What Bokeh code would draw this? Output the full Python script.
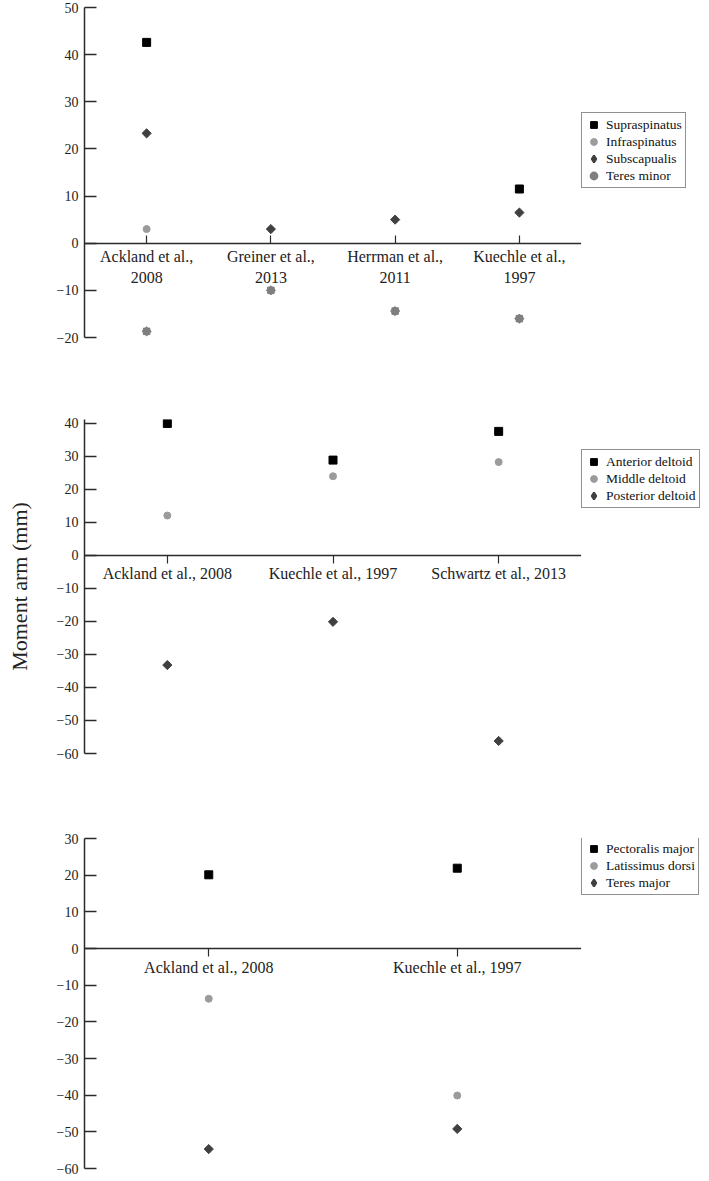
import math
from bokeh.plotting import figure
from bokeh.layouts import column, row
from bokeh.models import FactorRange, Range1d, FixedTicker, Legend, LegendItem, ColumnDataSource
from bokeh.embed import file_html
from bokeh.resources import INLINE

FONT = "Liberation Serif"

# ---------------- Data ----------------
# Panel 1: rotator cuff
studies_1 = ["Ackland et al.,\n2008", "Greiner et al.,\n2013", "Herrman et al.,\n2011", "Kuechle et al.,\n1997"]
supraspinatus = [42.6, None, None, 11.5]
infraspinatus = [3.0, None, None, None]
subscapularis = [23.3, 3.0, 5.0, 6.5]
teres_minor = [-18.7, -10.0, -14.4, -16.0]
yticks_1 = [-20, -10, 0, 10, 20, 30, 40, 50]

# Panel 2: deltoid
studies_2 = ["Ackland et al., 2008", "Kuechle et al., 1997", "Schwartz et al., 2013"]
anterior_deltoid = [40.0, 28.9, 37.6]
middle_deltoid = [12.1, 24.0, 28.3]
posterior_deltoid = [-33.2, -20.1, -56.2]
yticks_2 = [-60, -50, -40, -30, -20, -10, 0, 10, 20, 30, 40]

# Panel 3: others
studies_3 = ["Ackland et al., 2008", "Kuechle et al., 1997"]
pectoralis_major = [20.1, 21.9]
latissimus_dorsi = [-13.7, -40.1]
teres_major = [-54.7, -49.2]
yticks_3 = [-60, -50, -40, -30, -20, -10, 0, 10, 20, 30]

AXIS_COLOR = "#2b2b2b"
BORDER_LEFT = 84
FRAME_W = 497
LEG_W = 709 - BORDER_LEFT - FRAME_W

C_SQ = "black"
C_CI = "#9b9b9b"
C_DI = "#404040"
C_GE = "#7f7f7f"


def fmt(t):
    return ("\u2212" + str(abs(t))) if t < 0 else str(t)


STYLE = {
    "square": [dict(marker="square", size=8, fill_color=C_SQ, line_color=C_SQ)],
    "circle": [dict(marker="circle", size=7, fill_color=C_CI, line_color=C_CI)],
    "diamond": [dict(marker="square", size=6.5, angle=math.pi / 4,
                     fill_color=C_DI, line_color=C_DI)],
    "gear": [dict(marker="square", size=6.5, fill_color=C_GE, line_color=C_GE),
             dict(marker="square", size=6.5, angle=math.pi / 4,
                  fill_color=C_GE, line_color=C_GE)],
}

# legend glyphs (the legend does not draw marker rotation)
LEG_STYLE = {
    "square": [dict(marker="square", fill_color=C_SQ, line_color=C_SQ)],
    "circle": [dict(marker="circle", fill_color=C_CI, line_color=C_CI)],
    "diamond": [dict(marker="diamond", fill_color=C_DI, line_color=C_DI, line_width=2)],
    "gear": [dict(marker="circle", fill_color=C_GE, line_color=C_GE, line_width=2),
             dict(marker="asterisk", line_color=C_GE, line_width=2)],
}


def series_source(cats, vals):
    xs = [c for c, v in zip(cats, vals) if v is not None]
    ys = [v for v in vals if v is not None]
    return ColumnDataSource(dict(x=xs, y=ys))


def make_panel(cats, series, yrange, yticks, height, border_top, border_bottom,
               legend_vy, ylabel=None, tick_up=False):
    p = figure(width=BORDER_LEFT + FRAME_W, height=height,
               x_range=FactorRange(*cats, range_padding=0),
               y_range=Range1d(*yrange), output_backend="svg", toolbar_location=None,
               min_border_left=BORDER_LEFT, min_border_right=0, min_border_top=border_top,
               min_border_bottom=border_bottom)
    p.outline_line_color = None
    p.xgrid.grid_line_color = None
    p.ygrid.grid_line_color = None
    p.background_fill_color = "white"
    p.border_fill_color = "white"

    for name, vals, kind in series:
        src = series_source(cats, vals)
        for st in STYLE[kind]:
            p.scatter("x", "y", source=src, **st)

    # y axis
    ya = p.yaxis[0]
    ya.ticker = FixedTicker(ticks=yticks)
    ya.major_label_overrides = {t: fmt(t) for t in yticks}
    ya.major_tick_in = 12
    ya.major_tick_out = 0
    ya.minor_tick_line_color = None
    ya.axis_line_color = AXIS_COLOR
    ya.axis_line_width = 1.5
    ya.major_tick_line_color = AXIS_COLOR
    ya.major_tick_line_width = 1.5
    ya.major_label_text_font = FONT
    ya.major_label_text_font_size = "14px"
    ya.major_label_text_color = "#222222"
    ya.major_label_standoff = 6
    if ylabel:
        ya.axis_label = ylabel
        ya.axis_label_text_font = FONT
        ya.axis_label_text_font_size = "22px"
        ya.axis_label_text_font_style = "normal"
        ya.axis_label_text_color = "#222222"
        ya.axis_label_standoff = 22

    # x axis at zero
    xa = p.xaxis[0]
    xa.fixed_location = 0
    xa.axis_line_color = AXIS_COLOR
    xa.axis_line_width = 1.5
    xa.major_tick_line_color = AXIS_COLOR
    xa.major_tick_line_width = 1.2
    if tick_up:
        xa.major_tick_in = 8
        xa.major_tick_out = 0
    else:
        xa.major_tick_in = 0
        xa.major_tick_out = 8
    xa.minor_tick_line_color = None
    xa.major_label_text_font = FONT
    xa.major_label_text_font_size = "16px"
    xa.major_label_text_color = "#222222"
    xa.major_label_standoff = 5 if tick_up else 2
    xa.major_label_orientation = "horizontal"

    # legend panel: a figure right of the frame whose view range lies away
    # from the data, so that only the legend is visible in it
    q = figure(width=LEG_W, height=height, x_range=FactorRange(*cats, range_padding=0),
               y_range=Range1d(1000, 1001),
               x_axis_type=None, y_axis_type=None, output_backend="svg",
               toolbar_location=None, min_border=0)
    q.outline_line_color = None
    q.xgrid.grid_line_color = None
    q.ygrid.grid_line_color = None
    items = []
    for name, vals, kind in series:
        src = series_source(cats, vals)
        rs = [q.scatter("x", "y", source=src, **st) for st in LEG_STYLE[kind]]
        items.append(LegendItem(label=name, renderers=rs))
    leg = Legend(items=items, location=(0, legend_vy), margin=0,
                 padding=3, spacing=0,
                 label_height=17, glyph_height=17, glyph_width=17, label_standoff=4,
                 label_text_font=FONT, label_text_font_size="13.5px",
                 label_text_color="#111111",
                 border_line_color="#222222", border_line_width=1.2,
                 background_fill_color="white", background_fill_alpha=1.0)
    q.add_layout(leg)
    return row(p, q, spacing=0)


p1 = make_panel(studies_1,
                [("Supraspinatus", supraspinatus, "square"),
                 ("Infraspinatus", infraspinatus, "circle"),
                 ("Subscapualis", subscapularis, "diamond"),
                 ("Teres minor", teres_minor, "gear")],
                (-20, 50), yticks_1, height=409, border_top=7, border_bottom=72,
                legend_vy=149, tick_up=True)

p2 = make_panel(studies_2,
                [("Anterior deltoid", anterior_deltoid, "square"),
                 ("Middle deltoid", middle_deltoid, "circle"),
                 ("Posterior deltoid", posterior_deltoid, "diamond")],
                (-60, 41.2), yticks_2, height=419, border_top=10, border_bottom=75,
                legend_vy=245, ylabel="Moment arm (mm)")

p3 = make_panel(studies_3,
                [("Pectoralis major", pectoralis_major, "square"),
                 ("Latissimus dorsi", latissimus_dorsi, "circle"),
                 ("Teres major", teres_major, "diamond")],
                (-60, 30), yticks_3, height=353, border_top=10, border_bottom=13,
                legend_vy=273)

layout = column(p1, p2, p3, spacing=0)
open("out.html", "w").write(file_html(layout, INLINE))
